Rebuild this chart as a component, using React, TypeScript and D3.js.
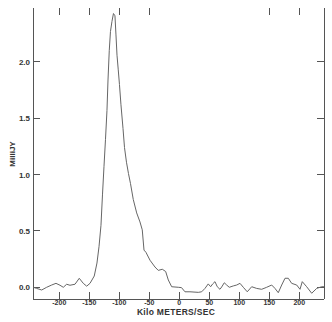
import React from 'react';
import * as d3 from 'd3';

// spectrum: velocity (km/s) and flux (mJy)
const velocity = [
  -243.3, -237.7, -229.3, -221.0, -212.7, -205.5, -198.8, -193.3, -187.7, -182.2,
  -173.8, -166.7, -160.0, -154.3, -148.8, -141.7, -137.2, -133.8, -130.5, -128.0,
  -125.5, -123.0, -120.5, -118.8, -116.7, -114.7, -112.2, -109.7, -107.2, -105.5,
  -103.8, -101.7, -99.7, -97.2, -93.8, -91.3, -88.0, -84.7, -81.3, -76.7,
  -71.0, -65.5, -61.7, -58.8, -55.5, -48.8, -40.5, -35.0, -28.3, -22.7,
  -18.3, -12.7, -1.7, 3.7, 9.5, 17.8, 31.7, 37.3, 42.8, 48.3,
  52.3, 55.7, 59.5, 63.3, 67.8, 70.7, 75.0, 79.0, 83.3, 90.0,
  95.7, 101.2, 106.7, 113.3, 120.7, 129.0, 137.3, 145.7, 154.0, 159.5,
  165.0, 170.7, 176.2, 181.7, 187.3, 195.7, 201.2, 205.0, 212.3, 220.7,
  229.0, 237.3, 241.2,
];
const flux = [
  0.0, -0.01, -0.024, 0.0, 0.02, 0.035, 0.018, 0.0, 0.027, 0.018,
  0.027, 0.08, 0.035, 0.01, 0.035, 0.1, 0.215, 0.36, 0.55, 0.82,
  1.07, 1.31, 1.57, 1.84, 2.1, 2.27, 2.36, 2.43, 2.41, 2.24,
  2.06, 1.93, 1.8, 1.62, 1.41, 1.24, 1.11, 1.01, 0.92, 0.78,
  0.66, 0.58, 0.51, 0.33, 0.31, 0.24, 0.18, 0.15, 0.16, 0.14,
  0.065, 0.005, 0.0, -0.003, -0.04, -0.04, -0.045, -0.04, -0.01, 0.03,
  0.005, 0.03, 0.05, 0.005, -0.018, 0.003, 0.04, 0.02, 0.0, 0.012,
  0.02, 0.035, 0.0, -0.04, 0.005, -0.01, -0.018, 0.0, 0.02, -0.01,
  -0.048, 0.02, 0.08, 0.08, 0.035, 0.02, -0.018, 0.05, 0.005, -0.053,
  -0.01, 0.005, 0.005,
];

const xTicks = [-200, -150, -100, -50, 0, 50, 100, 150, 200];
const topTicks = [-200, -150, -100, -50, 150, 200];
const yTicks = [0, 0.5, 1.0, 1.5, 2.0];

const W = 332;
const H = 322;
const left = 33;
const right = 324;
const top = 8;
const bottom = 299;

export default function App() {
  const x = d3.scaleLinear().domain([-243.8, 241.2]).range([left, right]);
  const y = d3.scaleLinear().domain([-0.104, 2.479]).range([bottom, top]);

  const pts = velocity.map((v, i) => [v, flux[i]] as [number, number]);
  const line = d3.line<[number, number]>()
    .x(d => x(d[0]))
    .y(d => y(d[1]));

  const ink = '#555';
  const font = 'Liberation Sans, Arial, sans-serif';

  return (
    <svg width={W} height={H} style={{ position: 'absolute', left: 0, top: 0, background: '#fff' }}>
      {/* frame: left, right, bottom (no top line) */}
      <g stroke={ink} strokeWidth={1} fill="none" shapeRendering="crispEdges">
        <line x1={left} x2={left} y1={top} y2={bottom} />
        <line x1={right} x2={right} y1={top} y2={bottom} />
        <line x1={left} x2={right} y1={bottom} y2={bottom} />
        {xTicks.map(t => (
          <line key={'b' + t} x1={x(t)} x2={x(t)} y1={bottom} y2={bottom - 7} />
        ))}
        {topTicks.map(t => (
          <line key={'t' + t} x1={x(t)} x2={x(t)} y1={top} y2={top + 7} />
        ))}
        {yTicks.map(t => (
          <g key={'y' + t}>
            <line x1={left} x2={left + 7} y1={y(t)} y2={y(t)} />
            <line x1={right - 7} x2={right} y1={y(t)} y2={y(t)} />
          </g>
        ))}
      </g>

      <path d={line(pts) ?? ''} fill="none" stroke="#666" strokeWidth={1} />

      <g fontFamily={font} fontWeight="bold" fill="#333">
        {yTicks.map(t => (
          <text key={'yl' + t} x={30} y={y(t) + 3} fontSize={8} textAnchor="end">{t.toFixed(1)}</text>
        ))}
        {xTicks.map(t => (
          <text key={'xl' + t} x={x(t)} y={304.5} fontSize={7} textAnchor="middle">{t}</text>
        ))}
        <text x={176} y={314.5} fontSize={8.5} textAnchor="middle" letterSpacing={0.3}>Kilo METERS/SEC</text>
        <text transform="translate(15,154) rotate(-90)" fontSize={8} textAnchor="middle">MilliJY</text>
      </g>
    </svg>
  );
}
